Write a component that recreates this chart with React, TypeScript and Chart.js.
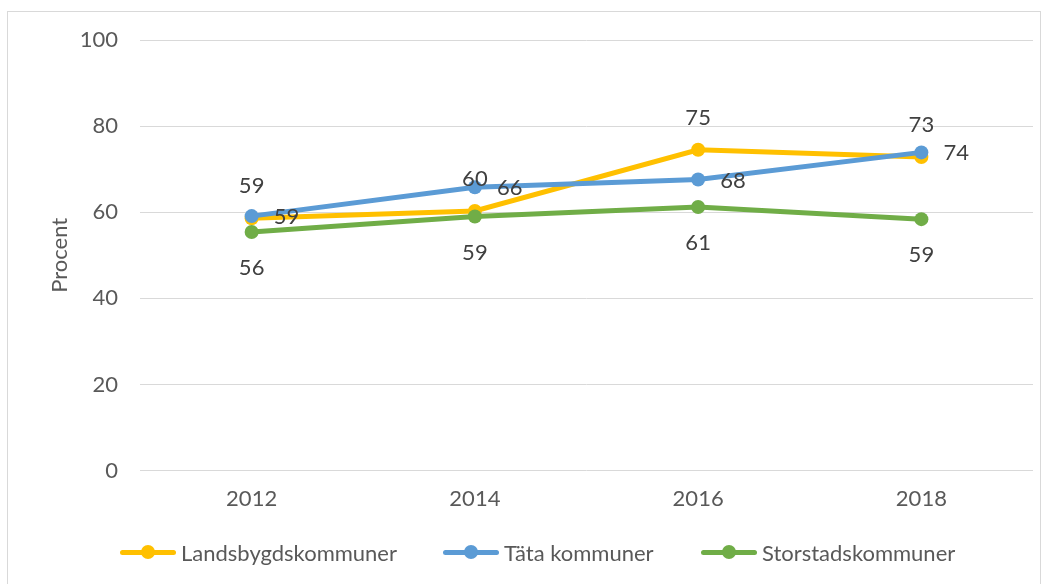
import React, { useEffect, useRef } from "react";
import { Chart, registerables } from "chart.js";

Chart.register(...registerables);

const years = ["2012", "2014", "2016", "2018"];
const landsbygd = [58.6, 60.3, 74.5, 72.8];
const tata = [59.1, 65.8, 67.6, 73.9];
const storstad = [55.4, 59.0, 61.2, 58.4];
const landsbygdLabels = ["59", "60", "75", "73"];
const tataLabels = ["59", "66", "68", "74"];
const storstadLabels = ["56", "59", "61", "59"];
const seriesNames = ["Landsbygdskommuner", "Täta kommuner", "Storstadskommuner"];
const yTicks = [0, 20, 40, 60, 80, 100];

const COLORS = ["#FFC000", "#5B9BD5", "#70AD47"];
const FONT = "Lato, 'Open Sans', sans-serif";
const FS = 22;
const LEGEND_X = [112, 435, 693];

const labelPlugin = {
  id: "valueLabels",
  afterDatasetsDraw(chart: any) {
    const ctx = chart.ctx;
    const texts = [landsbygdLabels, tataLabels, storstadLabels];
    const positions = ["above", "right", "below"];
    ctx.save();
    ctx.font = `${FS}px ${FONT}`;
    ctx.fillStyle = "#404040";
    ctx.textBaseline = "middle";
    chart.data.datasets.forEach((ds: any, di: number) => {
      const meta = chart.getDatasetMeta(di);
      meta.data.forEach((pt: any, i: number) => {
        const t = texts[di][i];
        const pos = positions[di];
        if (pos === "above") {
          ctx.textAlign = "center";
          ctx.fillText(t, pt.x, pt.y - 32);
        } else if (pos === "right") {
          ctx.textAlign = "left";
          ctx.fillText(t, pt.x + 22, pt.y + 1);
        } else {
          ctx.textAlign = "center";
          ctx.fillText(t, pt.x, pt.y + 36);
        }
      });
    });
    ctx.restore();
  },
};

function LegendItem({ color, text, left }: { color: string; text: string; left: number }) {
  return (
    <div style={{ position: "absolute", left, top: 526, height: 28, display: "flex", alignItems: "center" }}>
      <div style={{ position: "relative", width: 56, height: 14, marginRight: 5 }}>
        <div
          style={{
            position: "absolute",
            left: 0,
            right: 0,
            top: 5,
            height: 5,
            background: color,
            borderRadius: 2.5,
          }}
        />
        <div
          style={{
            position: "absolute",
            left: 21,
            top: 0,
            width: 14,
            height: 14,
            borderRadius: 7,
            background: color,
          }}
        />
      </div>
      <span style={{ fontFamily: FONT, fontSize: FS, color: "#595959", whiteSpace: "nowrap" }}>{text}</span>
    </div>
  );
}

export default function App() {
  const ref = useRef<HTMLCanvasElement>(null);

  useEffect(() => {
    if (!ref.current) return;
    const values = [landsbygd, tata, storstad];
    const chart = new Chart(ref.current, {
      type: "line",
      data: {
        labels: years,
        datasets: values.map((v, i) => ({
          label: seriesNames[i],
          data: v,
          order: 3 - i,
          borderColor: COLORS[i],
          backgroundColor: COLORS[i],
          borderWidth: 5,
          pointRadius: 7,
          pointHoverRadius: 7,
          pointBorderWidth: 0,
          pointStyle: "circle",
          tension: 0,
        })),
      },
      options: {
        responsive: false,
        animation: false,
        layout: { padding: { top: 28, right: 7, bottom: 16, left: 39 } },
        plugins: {
          tooltip: { enabled: false },
          legend: { display: false },
        },
        scales: {
          x: {
            offset: true,
            grid: { display: false, drawTicks: false },
            border: { display: false },
            ticks: {
              padding: 15,
              color: "#595959",
              font: { family: FONT, size: FS },
            },
          },
          y: {
            min: 0,
            max: 100,
            afterBuildTicks: (scale: any) => {
              scale.ticks = yTicks.map((v) => ({ value: v }));
            },
            afterFit: (scale: any) => {
              scale.width = 93;
              scale.paddingTop = 0;
              scale.paddingBottom = 0;
            },
            grid: { color: "#D9D9D9", lineWidth: 1, drawTicks: false },
            border: { display: false },
            ticks: {
              padding: 22,
              color: "#595959",
              font: { family: FONT, size: FS },
            },
            title: {
              display: true,
              text: "Procent",
              color: "#595959",
              font: { family: FONT, size: FS },
              padding: { top: 0, bottom: 0 },
            },
          },
        },
      },
      plugins: [labelPlugin],
    });
    return () => chart.destroy();
  }, []);

  return (
    <div
      style={{
        position: "absolute",
        left: 7,
        top: 11,
        width: 1034,
        height: 600,
        border: "1px solid #D9D9D9",
        boxSizing: "border-box",
        background: "#fff",
      }}
    >
      <canvas ref={ref} width={1032} height={531} style={{ display: "block" }} />
      {seriesNames.map((n, i) => (
        <LegendItem key={n} color={COLORS[i]} text={n} left={LEGEND_X[i]} />
      ))}
    </div>
  );
}
